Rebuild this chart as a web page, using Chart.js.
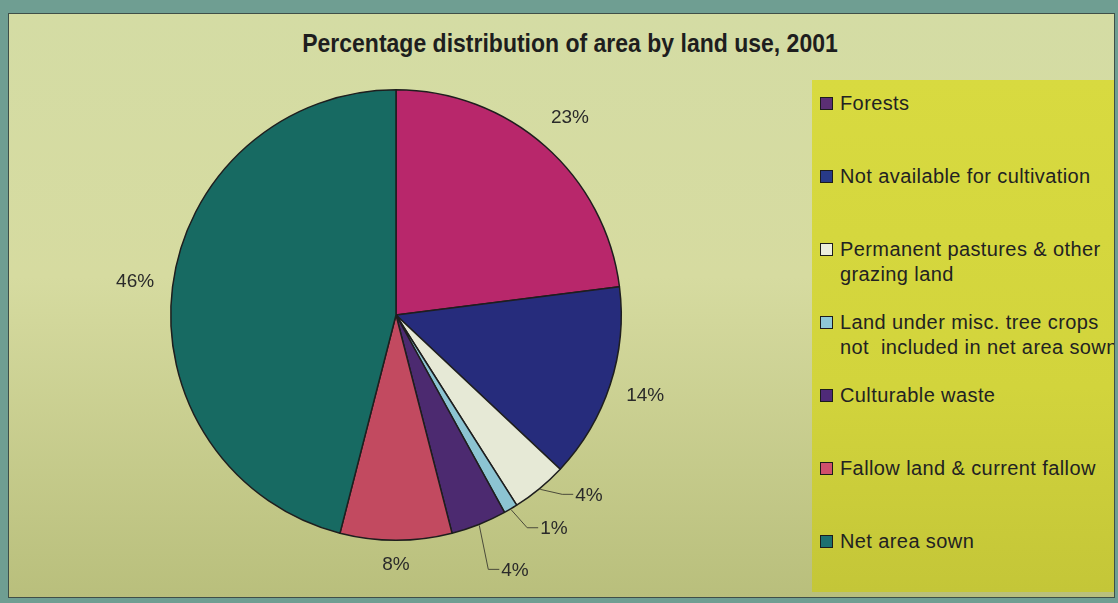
<!DOCTYPE html>
<html>
<head>
<meta charset="utf-8">
<script src="https://cdn.jsdelivr.net/npm/chart.js@4.4.1/dist/chart.umd.min.js"></script>
<style>
  html, body { margin: 0; padding: 0; }
  body {
    width: 1118px; height: 603px; overflow: hidden; position: relative;
    background: #6f9e92;
    font-family: "Liberation Sans", Arial, sans-serif;
  }
  #panel {
    position: absolute; left: 8px; top: 13px; width: 1105px; height: 583px;
    border: 1.5px solid #3f4f48;
    background: linear-gradient(180deg, #d4dca4 0%, #d6dba0 45%, #b9bf7c 100%);
  }
  #legendBox {
    position: absolute; left: 812px; top: 80px; width: 302px; height: 512px;
    background: linear-gradient(180deg, #d8da40 0%, #d2d43c 60%, #c4c638 100%);
    overflow: hidden;
  }
  #title {
    position: absolute; left: 0; top: 29px; width: 1140px; text-align: center;
    font-family: "Liberation Sans Narrow", "Arial Narrow", "Liberation Sans", sans-serif;
    font-weight: bold; font-size: 25px; color: #1e1e1e;
    transform: scaleX(0.92); transform-origin: 570px 0;
  }
  #chartWrap { position: absolute; left: 0; top: 0; width: 800px; height: 603px; }
  .item { position: absolute; left: 8px; font-size: 20px; letter-spacing: 0.4px; line-height: 25px; color: #222; white-space: nowrap; }
  .sw { position: absolute; left: 0; top: 6px; width: 11px; height: 11px; border: 1.5px solid #1c1c1c; }
  .txt { position: absolute; left: 20px; top: 0; }
</style>
</head>
<body>
<div id="panel"></div>
<div id="legendBox"></div>
<div id="title">Percentage distribution of area by land use, 2001</div>
<div id="chartWrap"><canvas id="pie"></canvas></div>

<script>
// ---- dados ----
const categories = [
  'Forests',
  'Not available for cultivation',
  ['Permanent pastures & other', 'grazing land'],
  ['Land under misc. tree crops', 'not  included in net area sown'],
  'Culturable waste',
  'Fallow land & current fallow',
  'Net area sown'
];
const shares = [23, 14, 4, 1, 4, 8, 46];

// ---- estilo ----
const sliceColors  = ['#b8276b', '#262c7c', '#e6e9d6', '#8cc4d2', '#4c2a70', '#c24a60', '#176a62'];
const legendColors = ['#5b2f74', '#283a88', '#eceedc', '#8ec8d6', '#4f2a78', '#d0506c', '#1c7070'];
const labelDist    = [263, 262, null, null, null, 250, 263];   // null = linha-guia
const leaderElbow  = [null, null, [22, 5], [16, 18], [9, 44], null, null];

// legenda HTML
const legendBox = document.getElementById('legendBox');
categories.forEach((cat, i) => {
  const lines = Array.isArray(cat) ? cat : [cat];
  const item = document.createElement('div');
  item.className = 'item';
  item.style.top = (103 - 80 - 12.5 + i * 73) + 'px';
  item.innerHTML = '<span class="sw" style="background:' + legendColors[i] + '"></span>' +
    '<span class="txt">' + lines.map(l => l.replace(/&/g, '&amp;').replace(/  /g, ' &nbsp;')).join('<br>') + '</span>';
  legendBox.appendChild(item);
});

// rótulos de porcentagem com linhas-guia
const pieLabels = {
  id: 'pieLabels',
  afterDatasetsDraw(chart) {
    const ctx = chart.ctx;
    const meta = chart.getDatasetMeta(0);
    ctx.save();
    ctx.font = '19px "Liberation Sans", Arial, sans-serif';
    ctx.fillStyle = '#2a2a2a';
    ctx.strokeStyle = '#4a4a3a';
    ctx.lineWidth = 1;
    ctx.textBaseline = 'middle';
    meta.data.forEach((arc, i) => {
      const p = arc.getProps(['x', 'y', 'startAngle', 'endAngle', 'outerRadius'], true);
      const a = (p.startAngle + p.endAngle) / 2;
      const text = shares[i] + '%';
      if (labelDist[i]) {
        ctx.textAlign = 'center';
        ctx.fillText(text, p.x + Math.cos(a) * labelDist[i], p.y + Math.sin(a) * labelDist[i]);
      } else {
        const sx = p.x + Math.cos(a) * (p.outerRadius + 1);
        const sy = p.y + Math.sin(a) * (p.outerRadius + 1);
        const ex = sx + leaderElbow[i][0];
        const ey = sy + leaderElbow[i][1];
        ctx.beginPath();
        ctx.moveTo(sx, sy);
        ctx.lineTo(ex, ey);
        ctx.lineTo(ex + 11, ey);
        ctx.stroke();
        ctx.textAlign = 'left';
        ctx.fillText(text, ex + 13, ey + 1);
      }
    });
    ctx.restore();
  }
};

new Chart(document.getElementById('pie'), {
  type: 'pie',
  data: {
    labels: categories,
    datasets: [{
      data: shares,
      backgroundColor: sliceColors,
      borderColor: '#1e1e1e',
      borderWidth: 1.5
    }]
  },
  options: {
    responsive: true,
    maintainAspectRatio: false,
    animation: false,
    layout: { padding: { left: 170, right: 178, top: 89, bottom: 62 } },
    plugins: {
      legend: { display: false },
      tooltip: { enabled: true }
    }
  },
  plugins: [pieLabels]
});
</script>
</body>
</html>
